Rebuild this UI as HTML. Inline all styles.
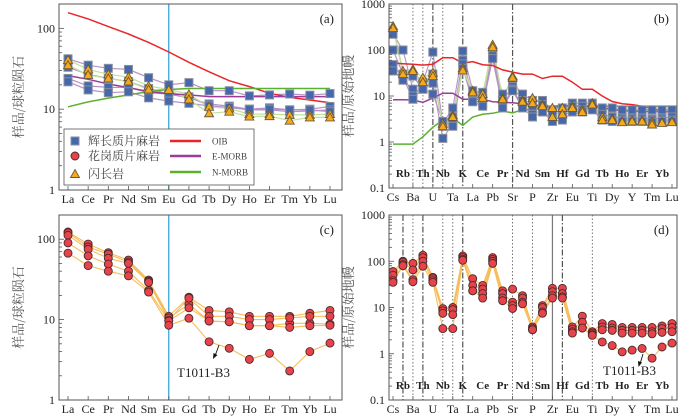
<!DOCTYPE html>
<html><head><meta charset="utf-8">
<style>
html,body{margin:0;padding:0;background:#fff;}
svg{display:block;font-family:"Liberation Serif","Noto Serif CJK SC",serif;}
</style></head>
<body>
<svg id="fig" width="700" height="417" viewBox="0 0 700 417" xmlns="http://www.w3.org/2000/svg"></svg>
<script>
// ---------- data ----------
const reeCats = ["La","Ce","Pr","Nd","Sm","Eu","Gd","Tb","Dy","Ho","Er","Tm","Yb","Lu"];
const spiderCats = ["Cs","Rb","Ba","Th","U","Nb","Ta","K","La","Ce","Pb","Pr","Sr","Nd","P","Sm","Zr","Hf","Eu","Gd","Ti","Tb","Dy","Ho","Y","Er","Tm","Yb","Lu"];
const reeTicks = [1,10,100];
const spiderTicks = [0.1,1,10,100,1000];

// panel a
const oibREE = [156,131,105,85,67,51,38,29,22.5,19,15.7,14,13,12];
const emorbREE = [26,23.4,20.5,18.5,16.5,15.5,15,14.3,14.3,14.3,14.3,14.3,14.3,14.3];
const nmorbREE = [10.7,12.3,13.7,15,16.5,17.5,18,18,18,18,18,18,18,18];
const gabbroREE1 = [42,35,32,31,24.5,20,21.3,16.9,16.9,14.6,15,15.4,14.9,15.6];
const gabbroREE2 = [33,27,24,22,18,15.3,13.8,11.6,10.9,10,10.4,9.8,10,10.8];
const gabbroREE3 = [24,19.4,18.6,18.6,16,15.3,14.2,11,10.5,9.8,9.8,9.3,9.5,9.8];
const gabbroREE4 = [21.8,17.3,16,16.4,13.8,12.6,11.8,11,10.5,10,10,9.8,9.8,9.3];
const dioriteREE1 = [40.5,31,27,25,19.3,17.5,15.3,10.7,10.2,8.7,8.7,8.5,8.5,8.7];
const dioriteREE2 = [35,26.5,24,22,17.5,17.3,13.2,8.9,9.3,8.1,8.2,7.2,7.9,7.9];

// panel b
const oibSp = [52,50,49,47,49,68,68,52,56,48,46,37,33,30,30,24,27,27,20,14,14,10,7.6,6.8,6.5,6,5.3,4.8,4.3];
const emorbSp = [8.3,8.3,8.2,7.3,9,11.5,11.5,8.5,8.5,8.5,7.5,7.3,7.1,6.8,6.5,6,6,6.2,6.1,6,6,5.5,5,4.8,4.7,4.6,4.6,4.6,4.6];
const nmorbSp = [0.9,0.9,0.9,1.3,2.1,3.0,3.3,2.3,3.5,4,4.2,4.7,4.3,5,5.3,5.5,5.6,5.8,5.9,6,6.2,6,6,6,6,6,6,6,6];
const gabbroSp1 = [220,100,14,20,90,2.5,5.5,95,13,12,70,11,20,11,8,8,5,5.5,7,7,7,5.5,5.5,5,5,5,5,5,5];
const gabbroSp2 = [100,30,10,17,30,2.2,3.5,60,10,9,90,8,16,8,6,6.5,4,4.5,6,6,6,4,3.5,3.3,3.3,3.3,3.2,3.3,3.5];
const gabbroSp3 = [48,25,8.5,15,19,1.2,2.5,50,8,7,75,6,14,6,4,5,3,3.5,5,5,5.5,3.2,3,3,3,3,3,3,3];
const gabbroSp4 = [35,22,27,14,11,2.8,2.2,40,7.5,6,65,5.5,13,5.5,3.5,4.5,2.8,3,4.5,4.5,5,3,2.8,2.8,2.8,2.8,2.7,2.8,2.8];
const dioriteSp1 = [330,35,38,25,32,2.5,3.8,40,13,11,130,9,27,8,9,6.5,5.5,5.5,6,5,7,3.5,3.2,2.8,2.9,2.9,2.7,2.7,2.8];
const dioriteSp2 = [300,30,35,20,27,2.2,3.5,36,12,9,115,8.5,25,7.5,7,6,3.5,4,5.5,4.5,6.5,3,3,2.7,2.8,2.8,2.4,2.6,2.7];

// panel c
const graniteREE1 = [123,87,68,55,31,11,19,13,12.5,11,11,11,12,13];
const graniteREE2 = [120,80,65,52,30,10.5,15.5,9.6,9.4,8.4,8.4,9,9,8.8];
const graniteREE3 = [112,75,58,50,29,9.8,18.5,11,11,10,10,10.5,11,11];
const graniteREE4 = [90,62,49,40,23,9.6,14,9.6,9.4,8.4,8.4,8,8.4,8.5];
const graniteREE5 = [67,47,40,35,22,8.5,10.4,5.3,4.4,3.2,3.8,2.3,4.0,5.1];

// panel d
const graniteSp1 = [60,100,90,135,45,9.5,10,130,42,30,120,23,25,18,3.8,11,26,26,3.8,6.5,3,4.5,4.3,3.7,3.7,3.7,3.7,4,4.5];
const graniteSp2 = [50,95,65,120,42,8.5,9,120,30,25,110,20,13,16,3.5,10,22,20,3.4,4.8,2.8,3.8,3.6,3.2,3.2,3.2,3.0,3.5,3.7];
const graniteSp3 = [38,85,40,100,38,7.5,7,110,23,20,100,16,11,13,3.3,8,18,17,3.0,3.6,2.6,3.3,3.2,2.8,2.8,2.8,2.7,2.9,3.0];
const graniteSp4 = [35,80,36,78,35,3.5,3.5,105,23,16,90,14,9.5,12,3.3,7.5,16,16,2.8,3.6,2.5,1.8,1.5,1.1,1.2,1.3,0.8,1.4,1.7];

// ---------- drawing ----------
const NS="http://www.w3.org/2000/svg";
const svg=document.getElementById('fig');
function mk(tag,attrs,parent){const e=document.createElementNS(NS,tag);for(const k in attrs)e.setAttribute(k,attrs[k]);(parent||svg).appendChild(e);return e;}

function makePanel(p){
  const g=mk('g',{});
  
  
  const lmin=Math.log10(p.ymin), lmax=Math.log10(p.ymax);
  p.y=v=>p.y1-(Math.log10(v)-lmin)/(lmax-lmin)*(p.y1-p.y0);
  p.x=i=>p.cx0+i*(p.cx1-p.cx0)/(p.cats.length-1);
  return g;
}
function frame(p,g){
  const r=mk('rect',{x:p.x0,y:p.y0,width:p.x1-p.x0,height:p.y1-p.y0,fill:'none',stroke:'#555','stroke-width':1},g);
  
  
  // y ticks
  const dec0=Math.floor(Math.log10(p.ymin)), dec1=Math.ceil(Math.log10(p.ymax));
  for(let d=dec0; d<dec1; d++){
    for(let m=1;m<10;m++){
      const v=m*Math.pow(10,d);
      if(v<p.ymin-1e-9||v>p.ymax+1e-9)continue;
      const yy=p.y(v);
      mk('line',{x1:p.x0,x2:p.x0+(m===1?5:3),y1:yy,y2:yy,stroke:'#555','stroke-width':0.8},g);
    }
  }
  p.ticks.forEach(t=>{
    const tx=mk('text',{x:p.x0-4,y:p.y(t)+4,'text-anchor':'end','font-size':12,fill:'#222'},g);
    tx.textContent=String(t);
    
    
  });
  // x labels
  p.cats.forEach((c,i)=>{
    const xx=p.x(i);
    if(p.inner && i%2===1){
      const tx=mk('text',{x:xx,y:p.innerY,'text-anchor':'middle','font-size':11,'font-weight':'bold',fill:'#222'},g);
      tx.textContent=c;
      
      
    } else {
      mk('line',{x1:xx,x2:xx,y1:p.y1,y2:p.y1-4,stroke:'#555','stroke-width':0.8},g);
      const tx=mk('text',{x:xx,y:p.y1+13,'text-anchor':'middle','font-size':12,fill:'#222'},g);
      tx.textContent=c;
      
      
    }
  });
  const cx=p.x0-36, cy=(p.y0+p.y1)/2;
  const yt=mk('text',{x:cx,y:cy,'text-anchor':'middle','font-size':13,fill:'#555',transform:`rotate(-90 ${cx} ${cy})`,'font-family':'"Noto Serif CJK SC","Noto Sans CJK SC",serif'},g);
  yt.textContent=p.ytitle;
  
  
  const pl=mk('text',{x:p.x1-8,y:p.y0+19,'text-anchor':'end','font-size':13,fill:'#222'},g);
  pl.textContent=p.label;
  
  
}
function vline(p,g,i,style,color){
  const xx=p.x(i);
  const attrs={x1:xx,x2:xx,y1:p.y0,y2:p.y1,stroke:color||'#555','stroke-width':style==='dot'?0.8:1.2};
  if(style==='dot')attrs['stroke-dasharray']='1.5 2';
  if(style==='dashdot')attrs['stroke-dasharray']='6 2 1.5 2';
  const l=mk('line',attrs,g);
  
  
}
function line(p,g,vals,color,w,name){
  const pts=vals.map((v,i)=>p.x(i).toFixed(1)+','+p.y(v).toFixed(1)).join(' ');
  const l=mk('polyline',{points:pts,fill:'none',stroke:color,'stroke-width':w},g);
  
  
}
function marks(p,g,vals,shape,name){
  vals.forEach((v,i)=>{
    const xx=p.x(i), yy=p.y(v); let m;
    if(shape==='sq') m=mk('rect',{x:xx-4,y:yy-4,width:8,height:8,fill:'#4467ad',stroke:'#8a8f9c','stroke-width':1},g);
    else if(shape==='ci') m=mk('circle',{cx:xx,cy:yy,r:4,fill:'#e8434b',stroke:'#4a2a2a','stroke-width':0.9},g);
    else m=mk('polygon',{points:`${xx},${yy-4.5} ${xx+4.5},${yy+3.5} ${xx-4.5},${yy+3.5}`,fill:'#f7a81b',stroke:'#6b5a3a','stroke-width':0.9},g);
    
    
  });
}

// Panel a
const pa={name:'panel-a-ree',x0:59,x1:342,y0:4,y1:190,ymin:1,ymax:200,cx0:68,cx1:330,cats:reeCats,ticks:reeTicks,ytitle:'样品/球粒陨石',label:'(a)'};
const ga=makePanel(pa);
vline(pa,ga,5,'solid','#2a9fd6');
[gabbroREE1,gabbroREE2,gabbroREE3,gabbroREE4].forEach(s=>line(pa,ga,s,'#b590c8',1.2,'gabbro-line'));
[dioriteREE1,dioriteREE2].forEach(s=>line(pa,ga,s,'#bfe09a',1.2,'diorite-line'));
line(pa,ga,oibREE,'#e8262a',1.5,'oib-line');
line(pa,ga,emorbREE,'#9b3d98',1.5,'e-morb-line');
line(pa,ga,nmorbREE,'#5cb031',1.5,'n-morb-line');
[gabbroREE1,gabbroREE2,gabbroREE3,gabbroREE4].forEach(s=>marks(pa,ga,s,'sq','gabbro-marker'));
[dioriteREE1,dioriteREE2].forEach(s=>marks(pa,ga,s,'tri','diorite-marker'));
frame(pa,ga);
// legend
const lg=mk('g',{},ga);


mk('rect',{x:64,y:129,width:190,height:56,fill:'#fff',stroke:'#555','stroke-width':0.8},lg);
mk('rect',{x:71,y:137,width:8,height:8,fill:'#4467ad',stroke:'#8a8f9c'},lg);
mk('circle',{cx:75,cy:156,r:4,fill:'#e8434b',stroke:'#4a2a2a','stroke-width':0.9},lg);
mk('polygon',{points:'75,169.5 79.5,177.5 70.5,177.5',fill:'#f7a81b',stroke:'#6b5a3a','stroke-width':0.9},lg);
[['辉长质片麻岩',145],['花岗质片麻岩',160],['闪长岩',178]].forEach(a=>{const t=mk('text',{x:88,y:a[1],'font-size':12,fill:'#444','font-family':'"Noto Serif CJK SC",serif'},lg);t.textContent=a[0];});
[['OIB',141,'#e8262a'],['E-MORB',156,'#9b3d98'],['N-MORB',172,'#5cb031']].forEach(a=>{mk('line',{x1:170,x2:201,y1:a[1],y2:a[1],stroke:a[2],'stroke-width':2.5},lg);const t=mk('text',{x:212,y:a[1]+3.5,'font-size':9,fill:'#444'},lg);t.textContent=a[0];});

// Panel b
const pb={name:'panel-b-spider',x0:389,x1:677,y0:4,y1:188,ymin:0.1,ymax:1000,cx0:393,cx1:672,cats:spiderCats,ticks:spiderTicks,ytitle:'样品/原始地幔',label:'(b)',inner:true,innerY:177};
const gb=makePanel(pb);
vline(pb,gb,2,'dot');vline(pb,gb,3,'dot');vline(pb,gb,4,'dashdot');vline(pb,gb,5,'dot');vline(pb,gb,7,'dashdot');vline(pb,gb,12,'dashdot');
[gabbroSp1,gabbroSp2,gabbroSp3,gabbroSp4].forEach(s=>line(pb,gb,s,'#b590c8',1.1,'gabbro-line'));
[dioriteSp1,dioriteSp2].forEach(s=>line(pb,gb,s,'#bfe09a',1.1,'diorite-line'));
line(pb,gb,oibSp,'#e8262a',1.5,'oib-line');
line(pb,gb,emorbSp,'#9b3d98',1.5,'e-morb-line');
line(pb,gb,nmorbSp,'#5cb031',1.5,'n-morb-line');
[gabbroSp1,gabbroSp2,gabbroSp3,gabbroSp4].forEach(s=>marks(pb,gb,s,'sq','gabbro-marker'));
[dioriteSp1,dioriteSp2].forEach(s=>marks(pb,gb,s,'tri','diorite-marker'));
frame(pb,gb);

// Panel c
const pc={name:'panel-c-ree',x0:59,x1:342,y0:215,y1:400,ymin:1,ymax:200,cx0:68,cx1:330,cats:reeCats,ticks:reeTicks,ytitle:'样品/球粒陨石',label:'(c)'};
const gc=makePanel(pc);
vline(pc,gc,5,'solid','#2a9fd6');
const gr=[graniteREE1,graniteREE2,graniteREE3,graniteREE4,graniteREE5];
gr.forEach(s=>line(pc,gc,s,'#f7bd5a',1.1,'granite-line'));
gr.forEach(s=>marks(pc,gc,s,'ci','granite-marker'));
frame(pc,gc);
const tc=mk('text',{x:177,y:377,'font-size':13,fill:'#222'},gc);tc.textContent='T1011-B3';


mk('line',{x1:219,y1:345,x2:215,y2:356,stroke:'#111','stroke-width':0.9},gc);
mk('polygon',{points:'213,359 213.5,353 217.5,355',fill:'#111'},gc);

// Panel d
const pd={name:'panel-d-spider',x0:389,x1:677,y0:215,y1:400,ymin:0.1,ymax:1000,cx0:393,cx1:672,cats:spiderCats,ticks:spiderTicks,ytitle:'样品/原始地幔',label:'(d)',inner:true,innerY:389};
const gd=makePanel(pd);
vline(pd,gd,1,'dashdot');vline(pd,gd,2,'dot');vline(pd,gd,3,'dashdot');vline(pd,gd,5,'dot');vline(pd,gd,6,'dot');vline(pd,gd,7,'dashdot');
vline(pd,gd,12,'dot');vline(pd,gd,14,'dot');vline(pd,gd,16,'solid','#777');vline(pd,gd,17,'dashdot');vline(pd,gd,20,'dot');
const gs=[graniteSp1,graniteSp2,graniteSp3,graniteSp4];
gs.forEach(s=>line(pd,gd,s,'#f7bd5a',1.1,'granite-line'));
gs.forEach(s=>marks(pd,gd,s,'ci','granite-marker'));
frame(pd,gd);
const td=mk('text',{x:603,y:375,'font-size':13,fill:'#222'},gd);td.textContent='T1011-B3';


mk('line',{x1:643,y1:354,x2:640,y2:364,stroke:'#111','stroke-width':0.9},gd);
mk('polygon',{points:'638.5,367 638,361 642,362.5',fill:'#111'},gd);
</script>
</body></html>
